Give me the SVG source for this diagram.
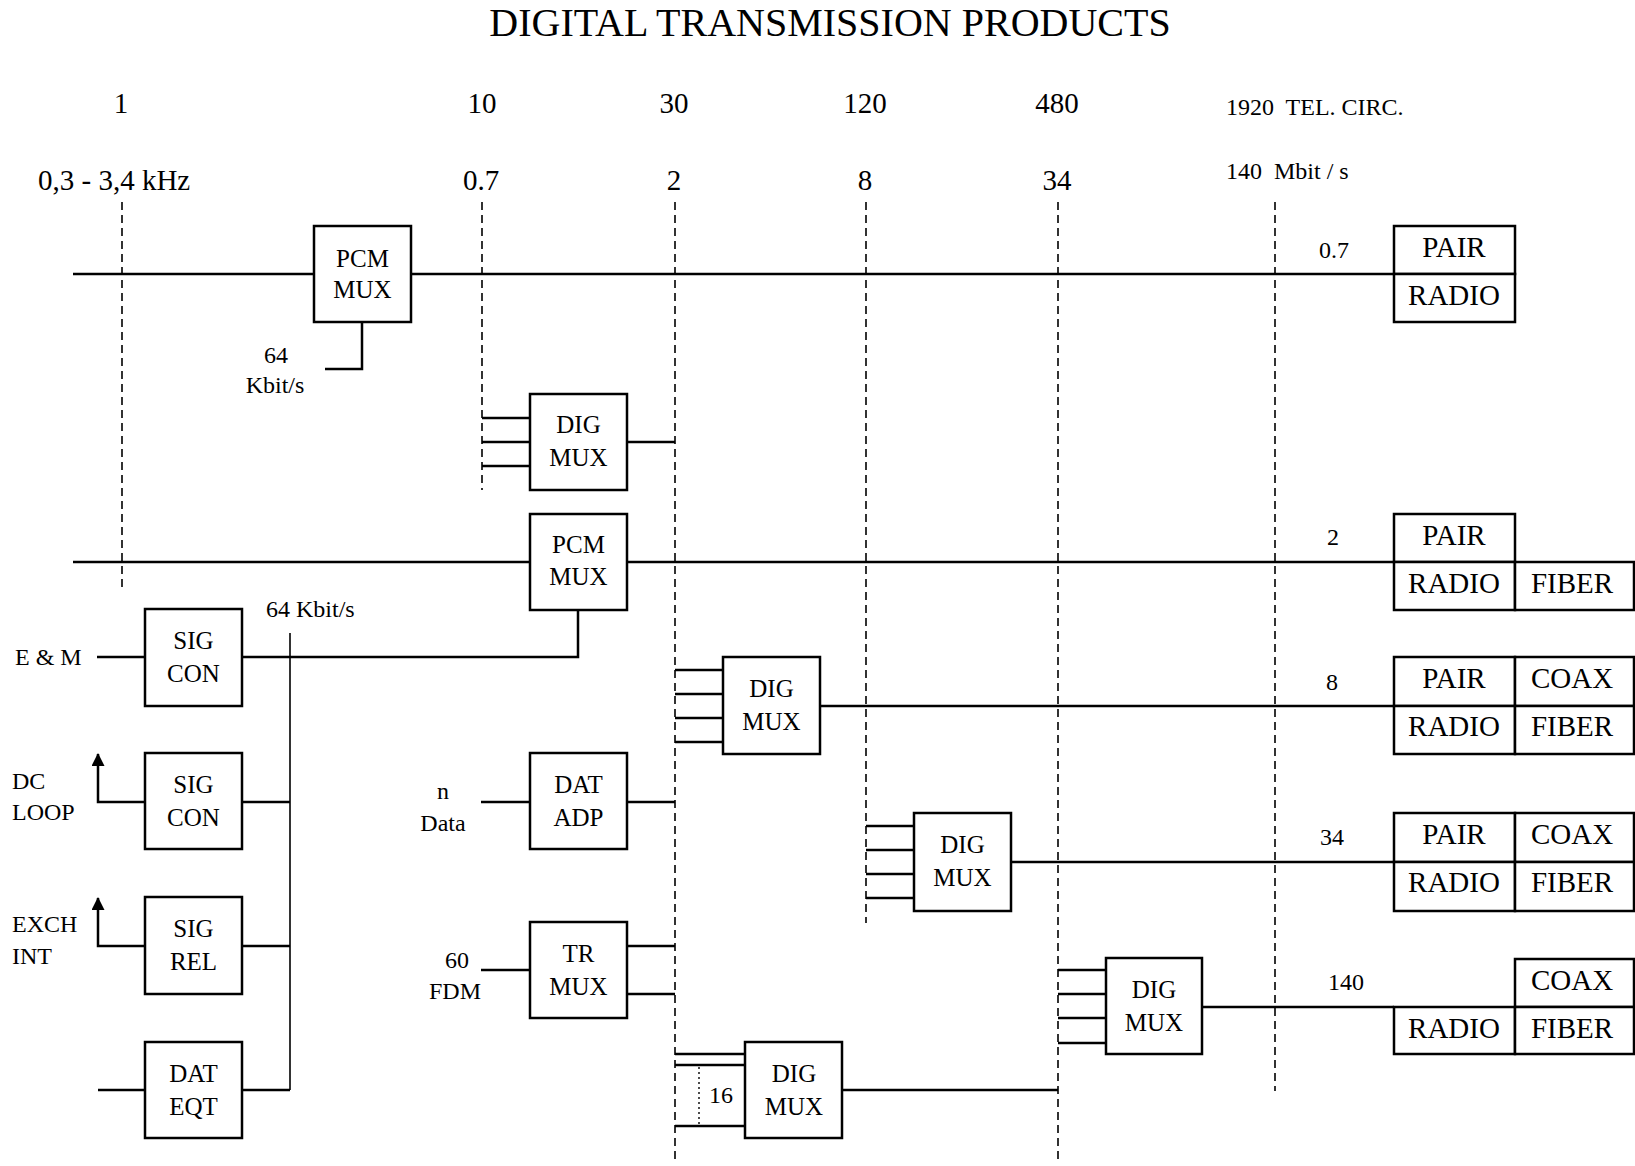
<svg xmlns="http://www.w3.org/2000/svg" width="1635" height="1166" viewBox="0 0 1635 1166">
<style>
text{font-family:"Liberation Serif","Times New Roman",serif;fill:#000}
.t{font-size:40px}
.h{font-size:29px}
.s{font-size:24px;white-space:pre}
.b{font-size:25px;text-anchor:middle}
.m{font-size:29px;text-anchor:middle}
.l{font-size:24px}
.c{text-anchor:middle}
.box{fill:#fff;stroke:#000;stroke-width:2.5}
.ln{fill:none;stroke:#000;stroke-width:2.5}
.thin{fill:none;stroke:#000;stroke-width:1.6}
.dash{fill:none;stroke:#000;stroke-width:1.6;stroke-dasharray:8 5}
.dot{fill:none;stroke:#000;stroke-width:1.4;stroke-dasharray:2 3}
</style>
<defs>
<marker id="arr" viewBox="0 0 13 13" refX="12" refY="6.5" markerWidth="13" markerHeight="13" orient="auto" markerUnits="userSpaceOnUse"><path d="M0,0 L13,6.5 L0,13 z" fill="#000"/></marker>
</defs>
<rect width="1635" height="1166" fill="#fff"/>
<g id="header">
<text class="t c" x="830" y="36">DIGITAL TRANSMISSION PRODUCTS</text>
<text class="h c" x="121" y="113">1</text>
<text class="h c" x="482" y="113">10</text>
<text class="h c" x="674" y="113">30</text>
<text class="h c" x="865" y="113">120</text>
<text class="h c" x="1057" y="113">480</text>
<text class="s" x="1226" y="115">1920  TEL. CIRC.</text>
<text class="h" x="38" y="190">0,3 - 3,4 kHz</text>
<text class="h c" x="481" y="190">0.7</text>
<text class="h c" x="674" y="190">2</text>
<text class="h c" x="865" y="190">8</text>
<text class="h c" x="1057" y="190">34</text>
<text class="s" x="1226" y="179">140  Mbit / s</text>
</g>
<g id="connectors">
<line class="dash" x1="122" y1="202" x2="122" y2="587"/>
<line class="dash" x1="482" y1="202" x2="482" y2="490"/>
<line class="dash" x1="675" y1="202" x2="675" y2="1162"/>
<line class="dash" x1="866" y1="202" x2="866" y2="923"/>
<line class="dash" x1="1058" y1="202" x2="1058" y2="1162"/>
<line class="dash" x1="1275" y1="202" x2="1275" y2="1091"/>
<line class="ln" x1="73" y1="274" x2="1394" y2="274"/>
<polyline class="ln" points="362,322 362,369 325,369"/>
<line class="ln" x1="482" y1="418" x2="530" y2="418"/>
<line class="ln" x1="482" y1="442" x2="530" y2="442"/>
<line class="ln" x1="482" y1="466" x2="530" y2="466"/>
<line class="ln" x1="627" y1="442" x2="675" y2="442"/>
<line class="ln" x1="73" y1="562" x2="1394" y2="562"/>
<polyline class="ln" points="578,610 578,657 242,657"/>
<line class="ln" x1="97" y1="657" x2="145" y2="657"/>
<line class="thin" x1="290" y1="633" x2="290" y2="1090"/>
<polyline class="ln" points="145,802 98,802 98,754" marker-end="url(#arr)"/>
<line class="ln" x1="242" y1="802" x2="290" y2="802"/>
<polyline class="ln" points="145,946 98,946 98,898" marker-end="url(#arr)"/>
<line class="ln" x1="242" y1="946" x2="290" y2="946"/>
<line class="ln" x1="98" y1="1090" x2="145" y2="1090"/>
<line class="ln" x1="242" y1="1090" x2="290" y2="1090"/>
<line class="ln" x1="481" y1="802" x2="530" y2="802"/>
<line class="ln" x1="627" y1="802" x2="675" y2="802"/>
<line class="ln" x1="481" y1="970" x2="530" y2="970"/>
<line class="ln" x1="627" y1="946" x2="675" y2="946"/>
<line class="ln" x1="627" y1="994" x2="675" y2="994"/>
<line class="ln" x1="675" y1="670" x2="723" y2="670"/>
<line class="ln" x1="675" y1="694" x2="723" y2="694"/>
<line class="ln" x1="675" y1="718" x2="723" y2="718"/>
<line class="ln" x1="675" y1="742" x2="723" y2="742"/>
<line class="ln" x1="820" y1="706" x2="1394" y2="706"/>
<line class="ln" x1="866" y1="826" x2="914" y2="826"/>
<line class="ln" x1="866" y1="850" x2="914" y2="850"/>
<line class="ln" x1="866" y1="874" x2="914" y2="874"/>
<line class="ln" x1="866" y1="898" x2="914" y2="898"/>
<line class="ln" x1="1011" y1="862" x2="1394" y2="862"/>
<line class="ln" x1="1058" y1="970" x2="1106" y2="970"/>
<line class="ln" x1="1058" y1="994" x2="1106" y2="994"/>
<line class="ln" x1="1058" y1="1018" x2="1106" y2="1018"/>
<line class="ln" x1="1058" y1="1043" x2="1106" y2="1043"/>
<line class="ln" x1="1202" y1="1007" x2="1394" y2="1007"/>
<line class="ln" x1="675" y1="1054" x2="745" y2="1054"/>
<line class="ln" x1="675" y1="1065" x2="745" y2="1065"/>
<line class="ln" x1="675" y1="1126" x2="745" y2="1126"/>
<line class="dot" x1="699" y1="1067" x2="699" y2="1124"/>
<line class="ln" x1="842" y1="1090" x2="1058" y2="1090"/>
</g>
<g id="pcm-mux-1"><rect class="box" x="314" y="226" width="97" height="96"/><text class="b" x="362.5" y="267">PCM</text><text class="b" x="362.5" y="298">MUX</text></g>
<g id="label-64k-1"><text class="l c" x="276" y="363">64</text><text class="l c" x="275" y="393">Kbit/s</text></g>
<g id="dig-mux-1"><rect class="box" x="530" y="394" width="97" height="96"/><text class="b" x="578.5" y="433">DIG</text><text class="b" x="578.5" y="466">MUX</text></g>
<g id="pcm-mux-2"><rect class="box" x="530" y="514" width="97" height="96"/><text class="b" x="578.5" y="553">PCM</text><text class="b" x="578.5" y="585">MUX</text></g>
<g id="label-64k-2"><text class="l" x="266" y="617">64 Kbit/s</text></g>
<g id="sig-con-1"><rect class="box" x="145" y="609" width="97" height="97"/><text class="b" x="193.5" y="649">SIG</text><text class="b" x="193.5" y="682">CON</text></g>
<g id="label-em"><text class="l" x="15" y="665">E &amp; M</text></g>
<g id="sig-con-2"><rect class="box" x="145" y="753" width="97" height="96"/><text class="b" x="193.5" y="793">SIG</text><text class="b" x="193.5" y="826">CON</text></g>
<g id="label-dc"><text class="l" x="12" y="789">DC</text><text class="l" x="12" y="820">LOOP</text></g>
<g id="sig-rel"><rect class="box" x="145" y="897" width="97" height="97"/><text class="b" x="193.5" y="937">SIG</text><text class="b" x="193.5" y="970">REL</text></g>
<g id="label-exch"><text class="l" x="12" y="932">EXCH</text><text class="l" x="12" y="964">INT</text></g>
<g id="dat-eqt"><rect class="box" x="145" y="1042" width="97" height="96"/><text class="b" x="193.5" y="1082">DAT</text><text class="b" x="193.5" y="1115">EQT</text></g>
<g id="dat-adp"><rect class="box" x="530" y="753" width="97" height="96"/><text class="b" x="578.5" y="793">DAT</text><text class="b" x="578.5" y="826">ADP</text></g>
<g id="label-data"><text class="l c" x="443" y="799">n</text><text class="l c" x="443" y="831">Data</text></g>
<g id="tr-mux"><rect class="box" x="530" y="922" width="97" height="96"/><text class="b" x="578.5" y="962">TR</text><text class="b" x="578.5" y="995">MUX</text></g>
<g id="label-fdm"><text class="l c" x="457" y="968">60</text><text class="l c" x="455" y="999">FDM</text></g>
<g id="dig-mux-16"><rect class="box" x="745" y="1042" width="97" height="96"/><text class="b" x="794" y="1082">DIG</text><text class="b" x="794" y="1115">MUX</text><text class="l c" x="721" y="1103">16</text></g>
<g id="dig-mux-2"><rect class="box" x="723" y="657" width="97" height="97"/><text class="b" x="771.5" y="697">DIG</text><text class="b" x="771.5" y="730">MUX</text></g>
<g id="dig-mux-3"><rect class="box" x="914" y="813" width="97" height="98"/><text class="b" x="962.5" y="853">DIG</text><text class="b" x="962.5" y="886">MUX</text></g>
<g id="dig-mux-4"><rect class="box" x="1106" y="958" width="96" height="96"/><text class="b" x="1154" y="998">DIG</text><text class="b" x="1154" y="1031">MUX</text></g>
<g id="media-07"><text class="l c" x="1334" y="258">0.7</text>
<rect class="box" x="1394" y="226" width="121" height="48"/><rect class="box" x="1394" y="274" width="121" height="48"/>
<text class="m" x="1454" y="257">PAIR</text><text class="m" x="1454" y="305">RADIO</text></g>
<g id="media-2"><text class="l c" x="1333" y="545">2</text>
<rect class="box" x="1394" y="514" width="121" height="48"/><rect class="box" x="1394" y="562" width="121" height="48"/><rect class="box" x="1515" y="562" width="119" height="48"/>
<text class="m" x="1454" y="545">PAIR</text><text class="m" x="1454" y="593">RADIO</text><text class="m" x="1572" y="593">FIBER</text></g>
<g id="media-8"><text class="l c" x="1332" y="690">8</text>
<rect class="box" x="1394" y="657" width="121" height="49"/><rect class="box" x="1515" y="657" width="119" height="49"/><rect class="box" x="1394" y="706" width="121" height="48"/><rect class="box" x="1515" y="706" width="119" height="48"/>
<text class="m" x="1454" y="688">PAIR</text><text class="m" x="1572" y="688">COAX</text><text class="m" x="1454" y="736">RADIO</text><text class="m" x="1572" y="736">FIBER</text></g>
<g id="media-34"><text class="l c" x="1332" y="845">34</text>
<rect class="box" x="1394" y="813" width="121" height="49"/><rect class="box" x="1515" y="813" width="119" height="49"/><rect class="box" x="1394" y="862" width="121" height="49"/><rect class="box" x="1515" y="862" width="119" height="49"/>
<text class="m" x="1454" y="844">PAIR</text><text class="m" x="1572" y="844">COAX</text><text class="m" x="1454" y="892">RADIO</text><text class="m" x="1572" y="892">FIBER</text></g>
<g id="media-140"><text class="l c" x="1346" y="990">140</text>
<rect class="box" x="1515" y="959" width="119" height="48"/><rect class="box" x="1394" y="1007" width="121" height="47"/><rect class="box" x="1515" y="1007" width="119" height="47"/>
<text class="m" x="1572" y="990">COAX</text><text class="m" x="1454" y="1038">RADIO</text><text class="m" x="1572" y="1038">FIBER</text></g>
</svg>
